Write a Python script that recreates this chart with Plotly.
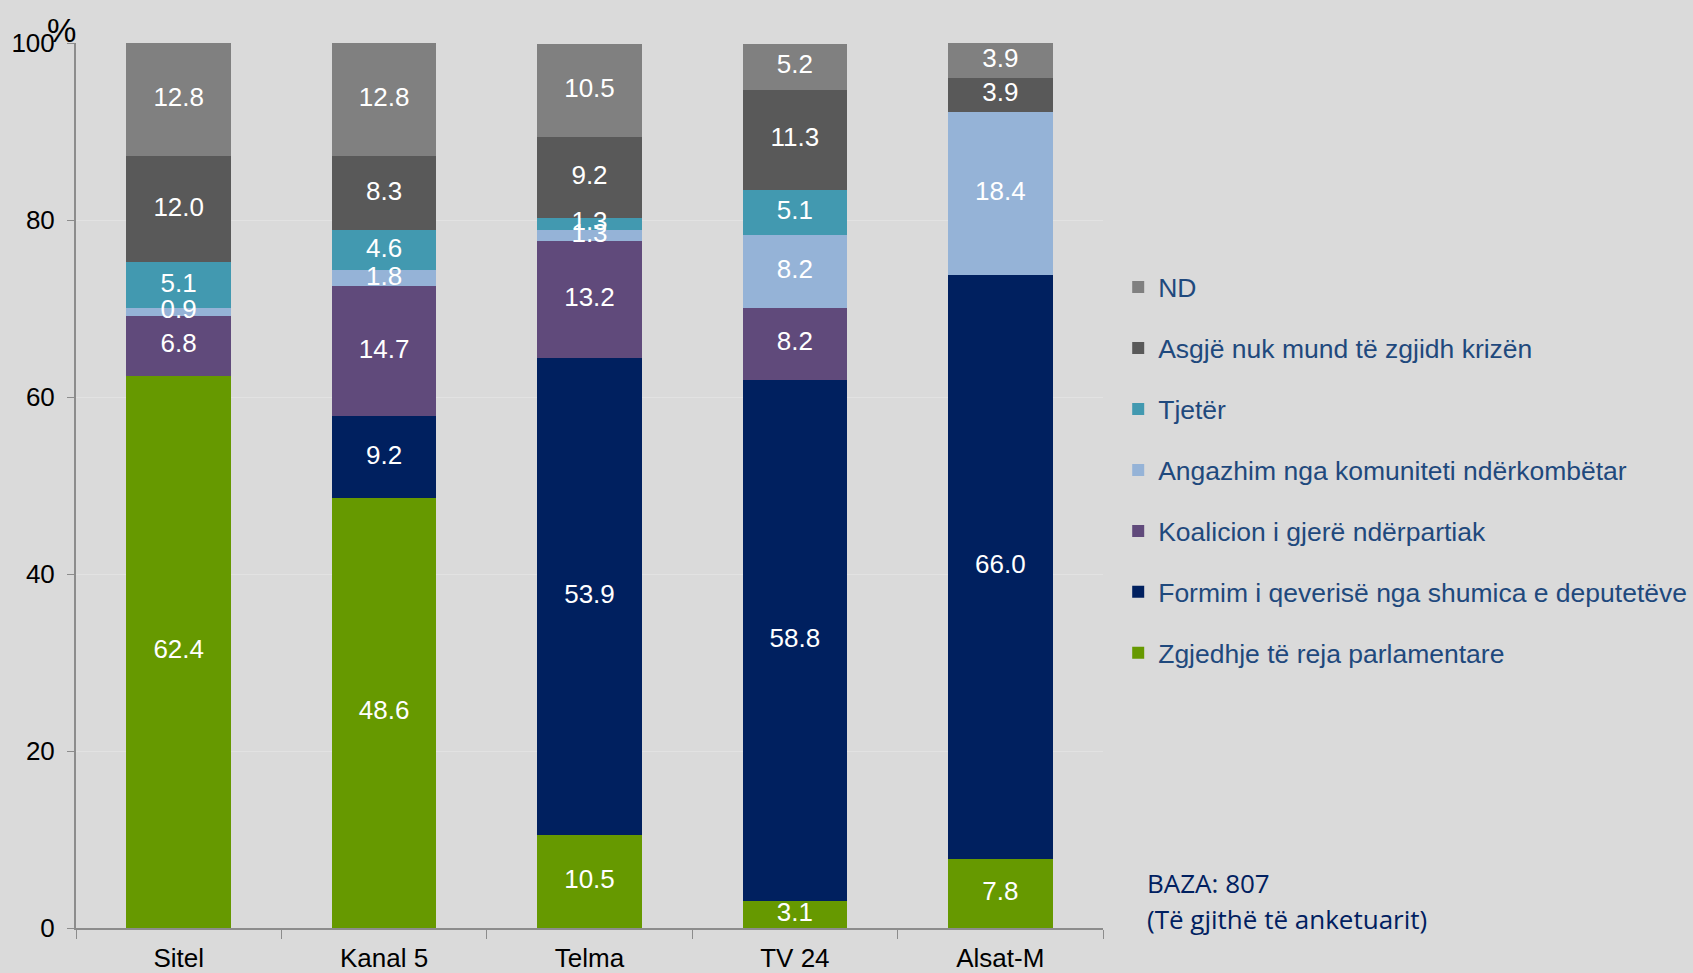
import plotly.graph_objects as go

categories = ["Sitel", "Kanal 5", "Telma", "TV 24", "Alsat-M"]

zgjedhje = [62.4, 48.6, 10.5, 3.1, 7.8]
formim = [0.0, 9.2, 53.9, 58.8, 66.0]
koalicion = [6.8, 14.7, 13.2, 8.2, 0.0]
angazhim = [0.9, 1.8, 1.3, 8.2, 18.4]
tjeter = [5.1, 4.6, 1.3, 5.1, 0.0]
asgje = [12.0, 8.3, 9.2, 11.3, 3.9]
nd = [12.8, 12.8, 10.5, 5.2, 3.9]

series = [
    ("Zgjedhje të reja parlamentare", zgjedhje, "#669900"),
    ("Formim i qeverisë nga shumica e deputetëve", formim, "#00205F"),
    ("Koalicion i gjerë ndërpartiak", koalicion, "#604A7B"),
    ("Angazhim nga komuniteti ndërkombëtar", angazhim, "#95B3D7"),
    ("Tjetër", tjeter, "#4299B0"),
    ("Asgjë nuk mund të zgjidh krizën", asgje, "#595959"),
    ("ND", nd, "#808080"),
]

yticks = [0, 20, 40, 60, 80, 100]

FONT = "Liberation Sans, Arial, sans-serif"

fig = go.Figure()
n = len(series)
base = [0.0] * len(categories)
lab_x, lab_y, lab_t = [], [], []
for i, (name, vals, color) in enumerate(series):
    fig.add_trace(go.Bar(
        x=categories, y=vals, name=name,
        marker=dict(color=color, line=dict(width=0)),
        legendgroup=f"g{i}", legendrank=n - i,
        hoverinfo="skip",
    ))
    for c, b, v in zip(categories, base, vals):
        if v:
            lab_x.append(c)
            lab_y.append(b + v / 2)
            lab_t.append(f"{v:.1f}")
    base = [b + v for b, v in zip(base, vals)]

# value labels drawn on top of all segments
fig.add_trace(go.Scatter(
    x=lab_x, y=lab_y, text=lab_t, mode="text",
    textposition="middle center",
    textfont=dict(color="white", size=26, family=FONT),
    showlegend=False, hoverinfo="skip", cliponaxis=False,
))

fig.update_layout(
    barmode="stack",
    bargap=0.49,
    width=1693, height=973,
    margin=dict(l=76, r=590, t=43, b=45, autoexpand=False),
    paper_bgcolor="#DADADA",
    plot_bgcolor="#DADADA",
    font=dict(family=FONT, color="black", size=24),
    showlegend=True,
    legend=dict(
        traceorder="grouped",
        tracegroupgap=23.5,
        x=1.0148, xanchor="left",
        y=0.751, yanchor="top",
        bgcolor="rgba(0,0,0,0)",
        font=dict(size=26.5, color="#1F497D", family=FONT),
    ),
    xaxis=dict(
        showline=True, linecolor="#8C8C8C", linewidth=2,
        ticks="outside", tickson="boundaries", ticklen=9, tickcolor="#8C8C8C",
        tickfont=dict(size=26, color="black"),
        ticklabelstandoff=6,
        showgrid=False, automargin=False,
    ),
    yaxis=dict(
        range=[0, 100], tickvals=yticks,
        showline=True, linecolor="#8C8C8C", linewidth=2,
        ticks="outside", ticklen=7, tickcolor="#8C8C8C",
        tickfont=dict(size=26, color="black"),
        ticklabelstandoff=7,
        showgrid=True, gridcolor="#E2E2E2", gridwidth=1,
        zeroline=False, automargin=False,
    ),
    annotations=[
        dict(text="%", xref="paper", yref="paper", x=-0.0146, y=1.0,
             xanchor="center", yanchor="bottom", showarrow=False,
             font=dict(size=33, color="black", family=FONT), yshift=-8),
        dict(text="BAZA: 807", xref="paper", yref="paper",
             x=1.0405, y=0.0514, xanchor="left", yanchor="middle", align="left",
             showarrow=False,
             font=dict(size=26, color="#002060", family="Open Sans, sans-serif")),
        dict(text="(Të gjithë të anketuarit)", xref="paper", yref="paper",
             x=1.0405, y=0.0107, xanchor="left", yanchor="middle", align="left",
             showarrow=False,
             font=dict(size=26, color="#002060", family="Open Sans, sans-serif")),
    ],
)

fig.write_html("out.html", config={"displayModeBar": False},
               post_script="document.body.style.margin='0';")
